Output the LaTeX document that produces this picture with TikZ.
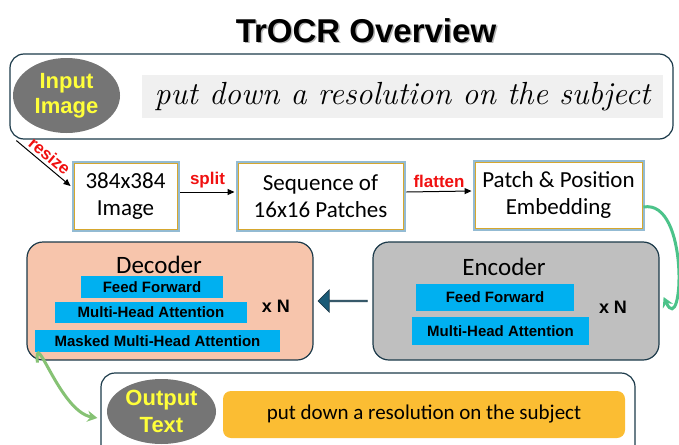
\documentclass[tikz,border=0pt]{standalone}
\usepackage{fontspec}
\setmainfont{Carlito}
\newfontfamily\headfont{Liberation Sans}
\newfontfamily\handfont{Latin Modern Roman}
\usetikzlibrary{shapes.geometric, shapes.arrows, arrows.meta, calc}

\definecolor{framec}{HTML}{1C3A4A}
\definecolor{taggray}{HTML}{757575}
\definecolor{tagyellow}{HTML}{FFFF3A}
\definecolor{glowc}{HTML}{93BBD3}
\definecolor{goldc}{HTML}{D6A72E}
\definecolor{peach}{HTML}{F7C5AC}
\definecolor{encgray}{HTML}{BFBFBF}
\definecolor{layerblue}{HTML}{00B0F0}
\definecolor{passc}{HTML}{1B5B77}
\definecolor{greenA}{HTML}{4CC38A}
\definecolor{greenB}{HTML}{86C274}
\definecolor{resultc}{HTML}{FBBD33}
\definecolor{lblred}{HTML}{F01010}

\tikzset{
    frame/.style={draw=framec, line width=1.2pt, rounded corners=14pt},
    tag/.style={ellipse, fill=taggray, text=tagyellow, align=center, inner sep=0pt,
        font=\headfont\bfseries\fontsize{22}{25}\selectfont},
    stepbox/.style={draw=goldc, line width=0.9pt, fill=white, inner sep=0pt, align=center,
        preaction={draw=glowc, line width=5pt},
        font=\fontsize{23}{27}\selectfont},
    block/.style={draw=framec, line width=1.2pt, rounded corners=16pt},
    layer/.style={fill=layerblue, inner sep=0pt, font=\headfont\bfseries\fontsize{15}{17}\selectfont},
    times/.style={font=\headfont\bfseries\fontsize{18}{20}\selectfont},
    lbl/.style={text=lblred, font=\headfont\bfseries\fontsize{17}{19}\selectfont},
    flow/.style={line width=1pt, -{Triangle[length=7pt, width=6pt]}}
}

\begin{document}
\begin{tikzpicture}[x=1pt, y=-1pt]
    \useasboundingbox (0,0) rectangle (679,444);
    \clip (0,0) rectangle (679,444);

    \node[anchor=base, text=black!30, font=\headfont\bfseries\fontsize{33}{36}\selectfont] at (367.5,43.5) {TrOCR Overview};
    \node[anchor=base, font=\headfont\bfseries\fontsize{33}{36}\selectfont] (title) at (366,42) {TrOCR Overview};

    % input row
    \node[frame, minimum width=663pt, minimum height=85pt] (inframe) at (341.5,96.5) {};
    \node[tag, minimum width=107pt, minimum height=75pt] (intag) at (66.5,95.5) {Input\\Image};
    \node[fill=black!6, minimum width=521pt, minimum height=43pt, inner sep=0pt,
        font=\handfont\itshape\fontsize{32}{34}\selectfont] (hand) at (402.5,96.5) {put down a resolution on the subject};

    % preprocessing steps
    \node[stepbox, minimum width=103pt, minimum height=66pt] (img) at (125.5,196) {384x384\\Image};
    \node[stepbox, minimum width=165pt, minimum height=66pt] (patch) at (320.5,196) {Sequence of\\16x16 Patches};
    \node[stepbox, minimum width=167pt, minimum height=66pt] (embed) at (558.5,195) {Patch \& Position\\Embedding};

    \draw[flow] ($(inframe.south west)+(7,1)$) -- ($(img.west)+(-3,-10)$)
        node[midway, sloped, above, lbl, inner sep=3pt] {resize};
    \draw[flow] ($(img.east)+(3,-4)$) -- ($(patch.west)+(-3,-4)$)
        node[midway, above, lbl] {split};
    \draw[flow] ($(patch.east)+(3,-4)$) -- ($(embed.west)+(-3,-4)$)
        node[midway, above, lbl] {flatten};

    % encoder
    \node[block, fill=encgray, minimum width=286pt, minimum height=118pt] (enc) at (516,301) {};
    \node[anchor=base, font=\fontsize{25}{28}\selectfont] (encT) at (504,275) {Encoder};
    \node[layer, minimum width=158pt, minimum height=27pt] (encFF) at (495,297.5) {Feed Forward};
    \node[layer, minimum width=177pt, minimum height=28pt] (encMHA) at (500.5,331) {Multi-Head Attention};
    \node[times, anchor=base] (encN) at (613,313) {x N};

    % decoder
    \node[block, fill=peach, minimum width=286pt, minimum height=118pt] (dec) at (170,301) {};
    \node[anchor=base, font=\fontsize{25}{28}\selectfont] (decT) at (159,273) {Decoder};
    \node[layer, minimum width=142pt, minimum height=22pt] (decFF) at (152,287) {Feed Forward};
    \node[layer, minimum width=192pt, minimum height=21pt] (decMHA) at (151,312.5) {Multi-Head Attention};
    \node[layer, minimum width=245pt, minimum height=22pt] (decMMHA) at (157.5,341) {Masked Multi-Head Attention};
    \node[times, anchor=base] (decN) at (276,312) {x N};

    \node[single arrow, shape border rotate=180, draw=framec, fill=passc, line width=0.8pt,
        minimum height=49pt, minimum width=22pt, single arrow head extend=6pt, inner sep=0pt]
        (pass) at ($(dec.east)!0.5!(enc.west)$) {};

    \draw[greenA, line width=3pt, -{Stealth[length=10pt, width=11pt]}]
        ($(embed.east)+(1,12)$) to[out=10, in=-65, looseness=1.3] ($(enc.east)+(4,-4)$);

    % output row
    \node[frame, minimum width=534pt, minimum height=90pt] (outframe) at (368,418) {};
    \node[tag, minimum width=109pt, minimum height=65pt, font=\headfont\bfseries\fontsize{22}{27}\selectfont]
        (outtag) at (161.5,411.5) {Output\\Text};
    \node[fill=resultc, rounded corners=8pt, minimum width=402pt, minimum height=47pt,
        font=\fontsize{21}{24}\selectfont] (result) at (424,414.5) {put down a resolution on the subject};

    \draw[greenB, line width=3pt, -{Stealth[length=10pt, width=11pt]}]
        ($(dec.south west)+(11,2)$) to[out=95, in=170, looseness=1.2] ($(outframe.west)+(-3,0)$);
\end{tikzpicture}
\end{document}
